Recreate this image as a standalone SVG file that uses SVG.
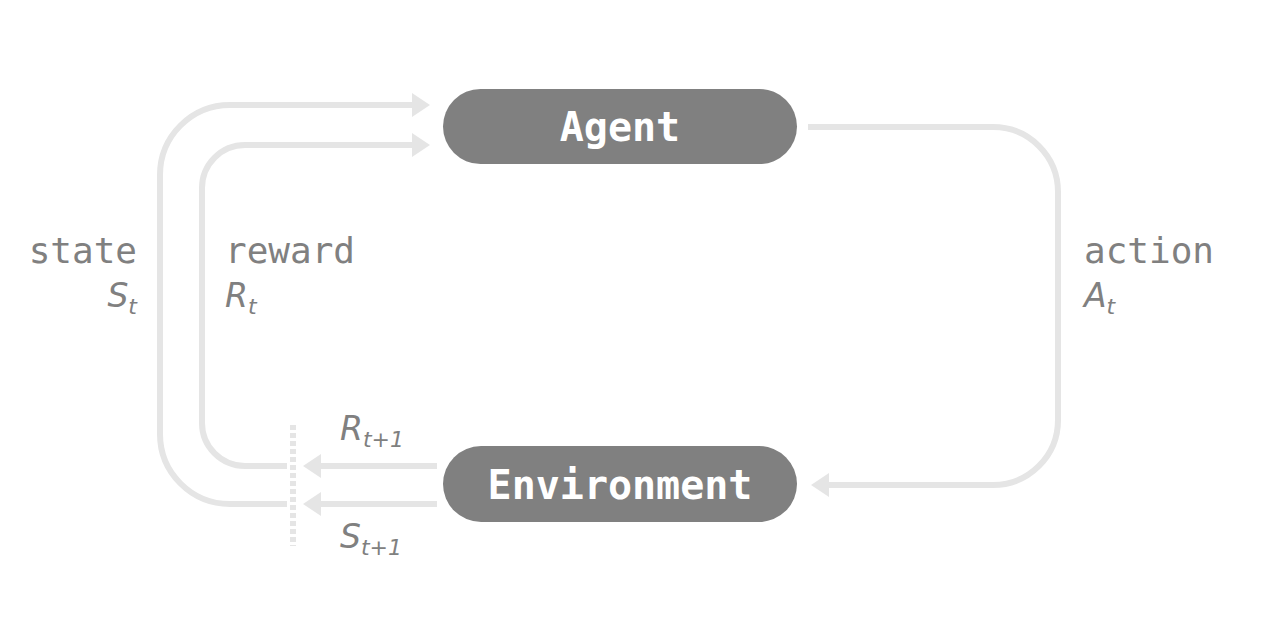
<svg xmlns="http://www.w3.org/2000/svg" width="1280" height="624" viewBox="0 0 1280 624">
<style>
.conn{fill:none;stroke:#e5e5e5;stroke-width:6}
.dots{fill:none;stroke:#e5e5e5;stroke-width:6;stroke-dasharray:5 3}
.node{fill:#808080}
.ntext{font-family:"DejaVu Sans Mono","Liberation Mono",monospace;font-weight:bold;font-size:40px;fill:#ffffff;text-anchor:middle}
.lbl{font-family:"DejaVu Sans Mono","Liberation Mono",monospace;font-size:36px;fill:#808080}
.math{font-family:"DejaVu Sans","Liberation Sans",sans-serif;font-style:italic;font-size:33px;fill:#808080}
.sub{font-size:22px}
</style>
<defs>
<marker id="ah" markerUnits="userSpaceOnUse" markerWidth="20" markerHeight="26" refX="0" refY="12" orient="auto" viewBox="0 0 20 26">
<path d="M0,0 L18,12 L0,24 z" fill="#e5e5e5"/>
</marker>
</defs>
<rect width="1280" height="624" fill="#ffffff"/>
<g id="connectors">
<path class="conn" d="M287 504 H230 A70 70 0 0 1 160 434 V175 A70 70 0 0 1 230 105 H412" marker-end="url(#ah)"/>
<path class="conn" d="M287 466 H245 A43 43 0 0 1 202 423 V188 A43 43 0 0 1 245 145 H412" marker-end="url(#ah)"/>
<path class="conn" d="M437 466 H321" marker-end="url(#ah)"/>
<path class="conn" d="M437 504 H321" marker-end="url(#ah)"/>
<path class="conn" d="M808 127 H993 A65 65 0 0 1 1058 192 V420 A65 65 0 0 1 993 485 H829" marker-end="url(#ah)"/>
<path class="dots" d="M293 425 V546"/>
</g>
<g id="agent">
<rect class="node" x="443" y="89" width="354" height="75" rx="37.5"/>
<text class="ntext" x="620" y="141">Agent</text>
</g>
<g id="environment">
<rect class="node" x="443" y="446" width="354" height="76" rx="38"/>
<text class="ntext" x="620" y="499">Environment</text>
</g>
<g id="labels">
<text class="lbl" x="137" y="263" text-anchor="end">state</text>
<text class="math" x="137" y="307" text-anchor="end">S<tspan class="sub" dy="7">t</tspan></text>
<text class="lbl" x="225" y="263">reward</text>
<text class="math" x="225" y="307">R<tspan class="sub" dy="7">t</tspan></text>
<text class="lbl" x="1084" y="263">action</text>
<text class="math" x="1084" y="307">A<tspan class="sub" dy="7">t</tspan></text>
<text class="math" x="340" y="440">R<tspan class="sub" dy="7">t+1</tspan></text>
<text class="math" x="340" y="548">S<tspan class="sub" dy="7">t+1</tspan></text>
</g>
</svg>
